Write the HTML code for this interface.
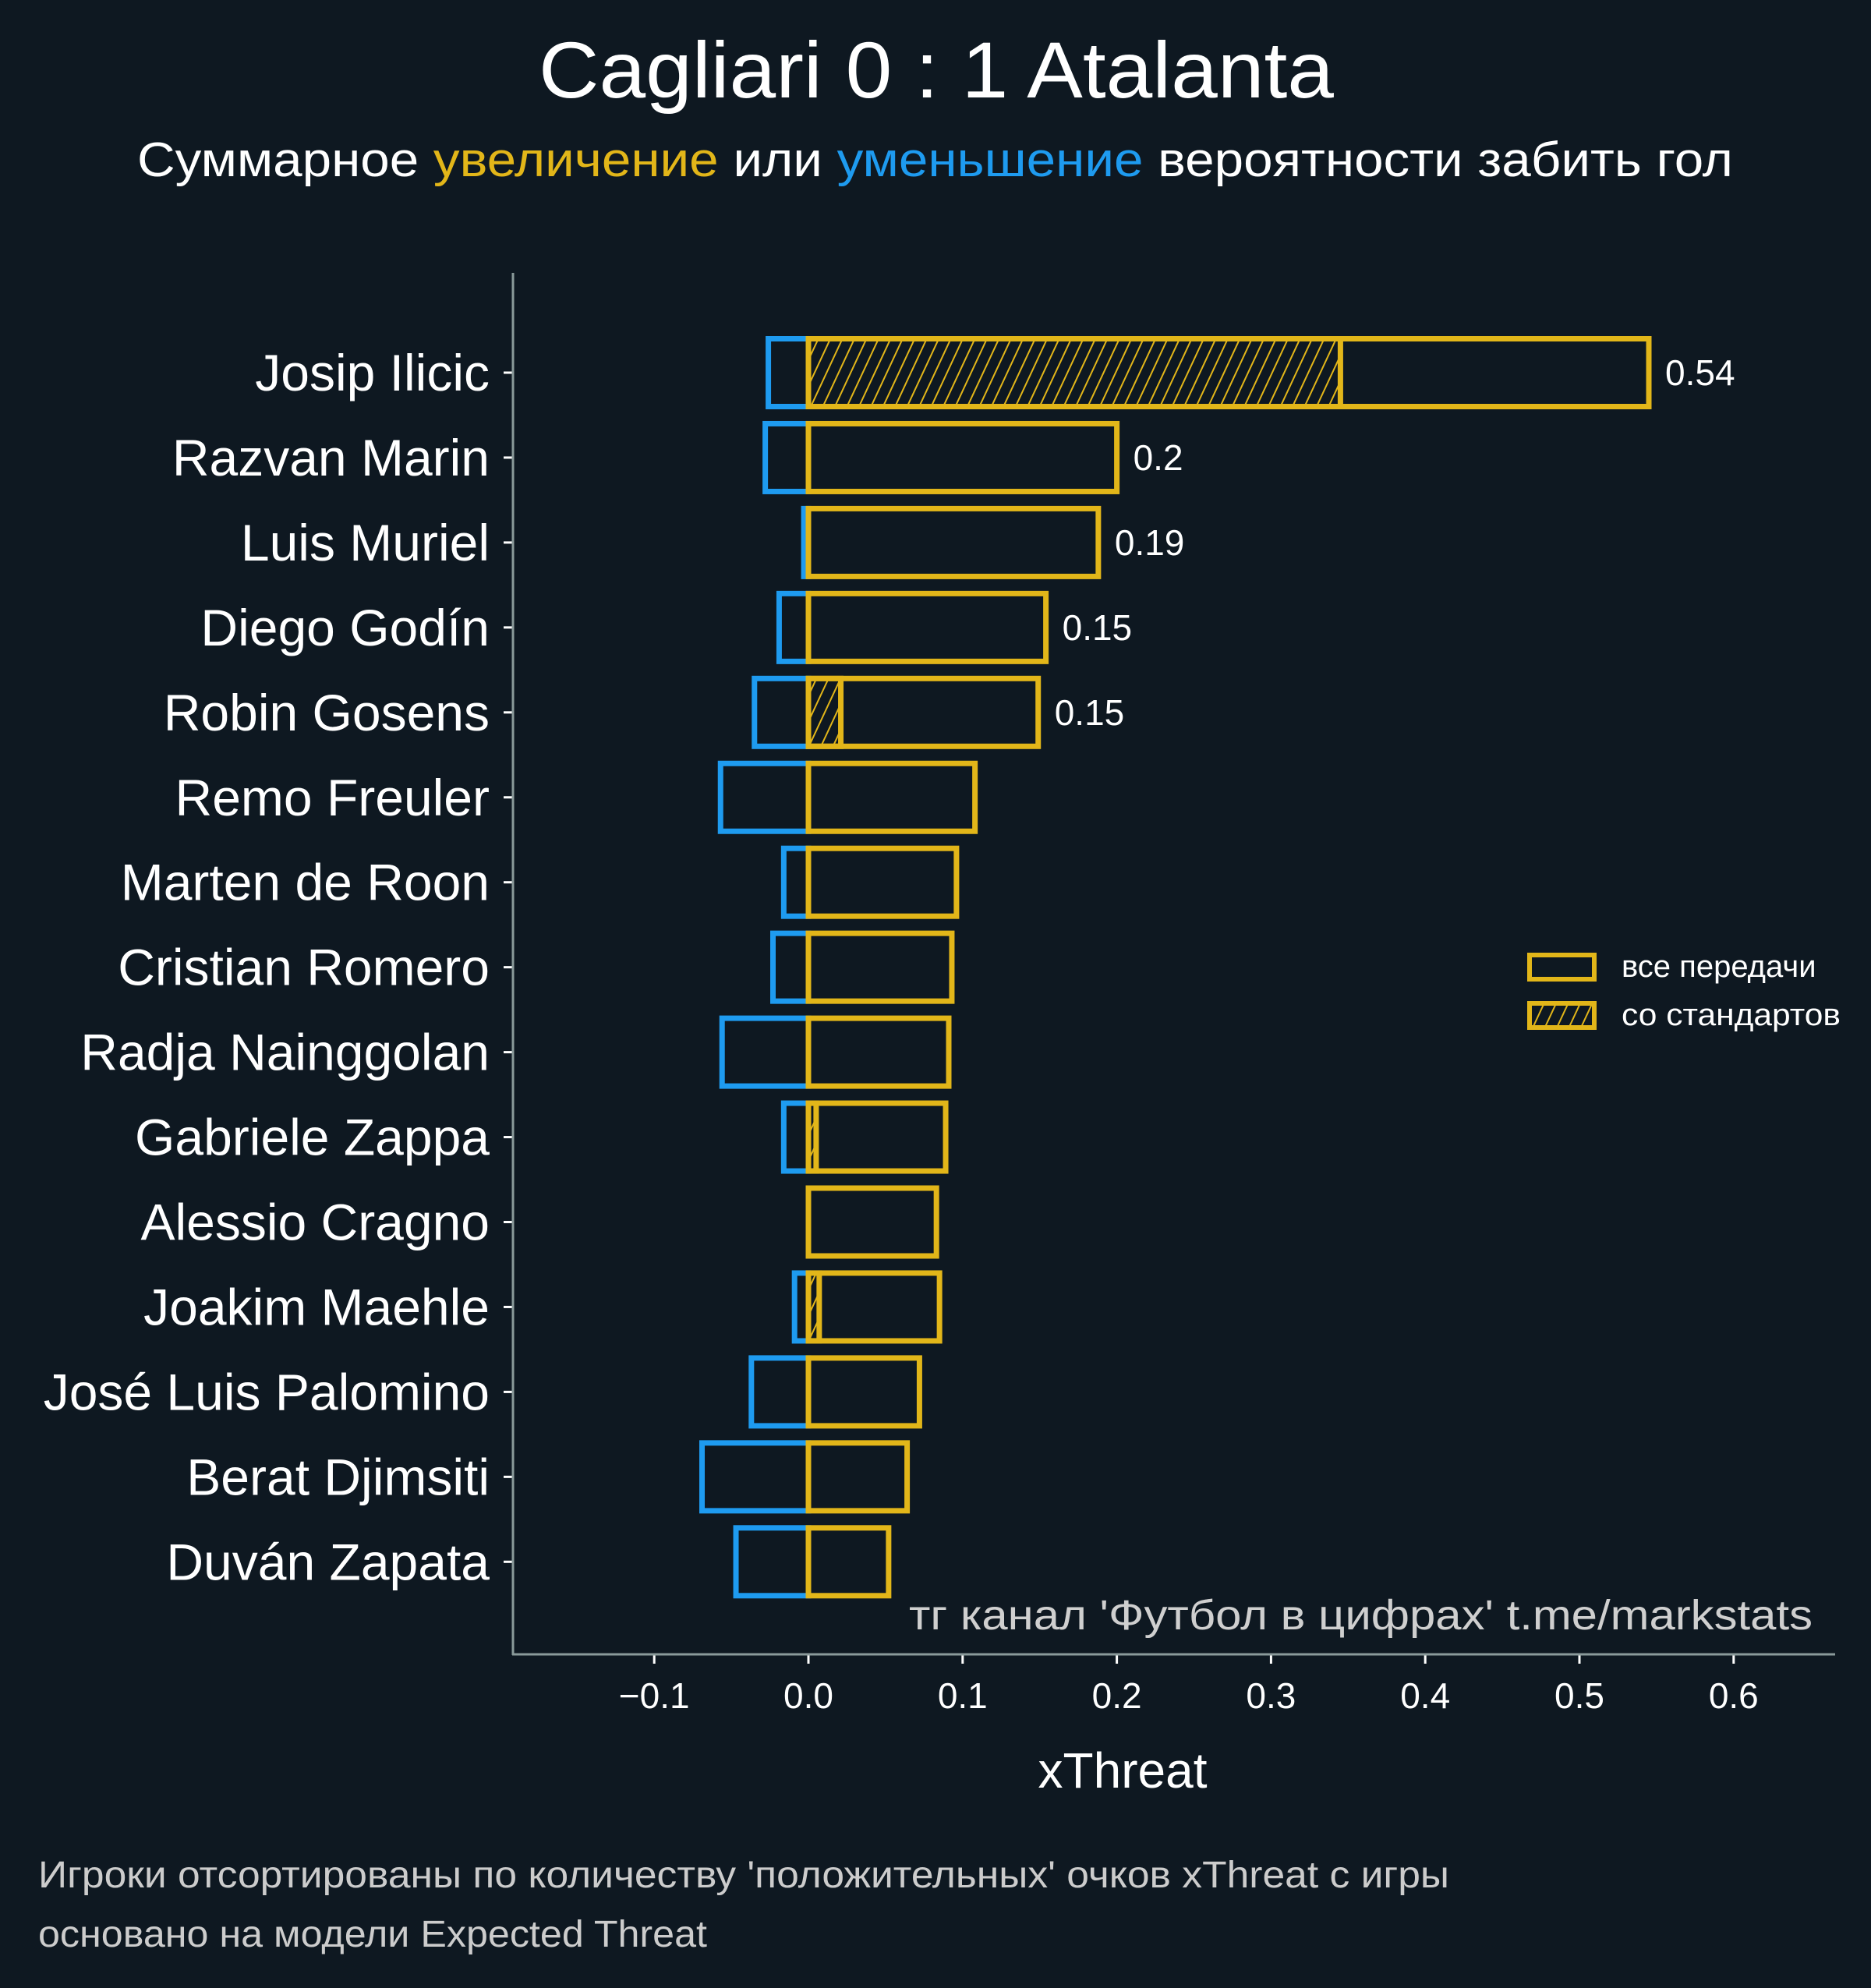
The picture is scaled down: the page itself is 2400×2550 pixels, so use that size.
<!DOCTYPE html>
<html><head><meta charset="utf-8"><style>
body{margin:0;background:#0e1821;}
svg{display:block;font-family:"Liberation Sans","DejaVu Sans",sans-serif;}
</style></head><body>
<svg id="chart" width="2400" height="2550" viewBox="0 0 2400 2550" xmlns="http://www.w3.org/2000/svg">
<defs>
<pattern id="hatch" patternUnits="userSpaceOnUse" width="14" height="14" patternTransform="rotate(25)">
<line x1="0" y1="0" x2="0" y2="14" stroke="#e2b619" stroke-width="4"/>
</pattern>
</defs>
<rect width="2400" height="2550" fill="#0e1821"/>
<text x="691" y="125" fill="#fff" font-size="102" textLength="1020" lengthAdjust="spacingAndGlyphs">Cagliari 0 : 1 Atalanta</text>
<text x="176" y="226" fill="#fff" font-size="62" textLength="2047" lengthAdjust="spacingAndGlyphs">Суммарное <tspan fill="#e2b619">увеличение</tspan> или <tspan fill="#1e9bf0">уменьшение</tspan> вероятности забить гол</text>
<g id="plot"></g>
<line x1="658" y1="350" x2="658" y2="2123" stroke="#8a9a9a" stroke-width="3"/>
<line x1="657" y1="2122" x2="2354" y2="2122" stroke="#8a9a9a" stroke-width="3"/>
<text x="1440" y="2293" text-anchor="middle" fill="#fff" font-size="64">xThreat</text>
<text x="1166" y="2090" fill="#cfcfcf" font-size="54" textLength="1159" lengthAdjust="spacingAndGlyphs">тг канал 'Футбол в цифрах'  t.me/markstats</text>
<g>
<rect x="1962" y="1225" width="83" height="31" fill="none" stroke="#e2b619" stroke-width="6"/>
<text x="2080" y="1253" fill="#fff" font-size="40">все передачи</text>
<rect x="1962" y="1287" width="83" height="31" fill="url(#hatch)" stroke="#e2b619" stroke-width="6"/>
<text x="2080" y="1315" fill="#fff" font-size="40" textLength="281" lengthAdjust="spacingAndGlyphs">со стандартов</text>
</g>
<text x="49" y="2421" fill="#cccccc" font-size="48" textLength="1810" lengthAdjust="spacingAndGlyphs">Игроки отсортированы по количеству 'положительных' очков xThreat с игры</text>
<text x="49" y="2497" fill="#cccccc" font-size="48" textLength="858" lengthAdjust="spacingAndGlyphs">основано на модели Expected Threat</text>
</svg>
<script>
const players = ["Josip Ilicic","Razvan Marin","Luis Muriel","Diego Godín","Robin Gosens","Remo Freuler","Marten de Roon","Cristian Romero","Radja Nainggolan","Gabriele Zappa","Alessio Cragno","Joakim Maehle","José Luis Palomino","Berat Djimsiti","Duván Zapata"];
const positiveXT = [0.545,0.200,0.188,0.154,0.149,0.108,0.096,0.093,0.091,0.089,0.083,0.085,0.072,0.064,0.052];
const setPieceXT = [0.345,0,0,0,0.021,0,0,0,0,0.005,0,0.007,0,0,0];
const negativeXT = [-0.026,-0.028,-0.003,-0.019,-0.035,-0.057,-0.016,-0.023,-0.056,-0.016,0,-0.009,-0.037,-0.069,-0.047];
const valueLabels = ["0.54","0.2","0.19","0.15","0.15"];
const xTicks = [-0.1,0,0.1,0.2,0.3,0.4,0.5,0.6];
const xTickLabels = ["−0.1","0.0","0.1","0.2","0.3","0.4","0.5","0.6"];

const NS="http://www.w3.org/2000/svg";
const X0=1037, PX=1978;
const xs=v=>X0+v*PX;
const ys=i=>478+i*108.95;
const BH=87;
const g=document.getElementById('plot');
function mk(tag,attrs){const e=document.createElementNS(NS,tag);for(const k in attrs)e.setAttribute(k,attrs[k]);g.appendChild(e);return e;}
players.forEach((p,i)=>{
  const y=ys(i);
  const t=mk('text',{x:628,y:y+23,'text-anchor':'end',fill:'#fff','font-size':66});
  t.textContent=p;
  
  
  const tk=mk('line',{x1:646,x2:658,y1:y,y2:y,stroke:'#fff','stroke-width':3});
  
  
  if(negativeXT[i]<0){
    const n=mk('rect',{x:xs(negativeXT[i]),y:y-BH/2,width:xs(0)-xs(negativeXT[i]),height:BH,fill:'none',stroke:'#1e9bf0','stroke-width':7});
    
    
  }
  if(setPieceXT[i]>0){
    const s=mk('rect',{x:xs(0),y:y-BH/2,width:xs(setPieceXT[i])-xs(0),height:BH,fill:'url(#hatch)',stroke:'#e2b619','stroke-width':7});
    
    
  }
  const b=mk('rect',{x:xs(0),y:y-BH/2,width:xs(positiveXT[i])-xs(0),height:BH,fill:'none',stroke:'#e2b619','stroke-width':7});
  
  
  if(i<valueLabels.length){
    const v=mk('text',{x:xs(positiveXT[i])+21,y:y+16,fill:'#fff','font-size':46});
    v.textContent=valueLabels[i];
    
    
  }
});
xTicks.forEach((v,i)=>{
  const l=mk('line',{x1:xs(v),x2:xs(v),y1:2122,y2:2134,stroke:'#fff','stroke-width':3});
  
  
  const t=mk('text',{x:xs(v),y:2191,'text-anchor':'middle',fill:'#fff','font-size':46});
  t.textContent=xTickLabels[i];
  
  
});
</script>
</body></html>
